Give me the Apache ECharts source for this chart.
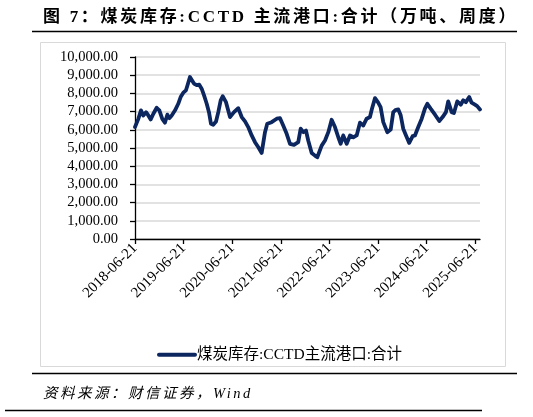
<!DOCTYPE html>
<html lang="zh">
  <head>
    <meta charset="UTF-8" />
    <title>煤炭库存:CCTD主流港口:合计</title>
    <script src="https://cdn.jsdelivr.net/npm/echarts@6.0.0/dist/echarts.min.js"></script>
    <style>
      html, body { margin: 0; padding: 0; background: #fff; }
      .page { position: relative; width: 533px; height: 417px; overflow: hidden; }
      .echarts { position: absolute; left: 0; top: 0; width: 533px; height: 417px; }
      .title {
        position: absolute; left: 43px; top: 2px;
        font: bold 17px "Liberation Serif", "Noto Sans CJK SC", serif;
        letter-spacing: 2.7px; color: #000; white-space: nowrap;
      }
      .source {
        position: absolute; left: 43px; top: 381px;
        font: italic 14.5px "Liberation Serif", "Noto Sans CJK SC", serif;
        letter-spacing: 2.5px; color: #000; white-space: nowrap;
      }
    </style>
  </head>
  <body>
    <div class="page">
      <div class="echarts"></div>
      <div class="title">图 7：煤炭库存:CCTD 主流港口:合计（万吨、周度）</div>
      <div class="source">资料来源：财信证券，Wind</div>
    </div>
    <script>
      // 数据 (从图上读取, 单位: 万吨)
      const seriesName = '煤炭库存:CCTD主流港口:合计'
      const tickDates = ['2018-06-21', '2019-06-21', '2020-06-21', '2021-06-21',
                         '2022-06-21', '2023-06-21', '2024-06-21', '2025-06-21']
      const dates = [
        '2018-06-21', '2018-07-16', '2018-08-05', '2018-08-22', '2018-09-12', '2018-09-29',
        '2018-10-17', '2018-11-06', '2018-12-01', '2018-12-21', '2019-01-12', '2019-02-01',
        '2019-02-19', '2019-03-06', '2019-03-24', '2019-04-18', '2019-05-12', '2019-05-30',
        '2019-06-19', '2019-07-09', '2019-07-19', '2019-08-08', '2019-08-23', '2019-09-07',
        '2019-09-28', '2019-10-17', '2019-11-04', '2019-11-22', '2019-12-12', '2019-12-29',
        '2020-01-13', '2020-01-30', '2020-02-20', '2020-03-08', '2020-03-26', '2020-04-10',
        '2020-05-05', '2020-06-04', '2020-07-04', '2020-08-05', '2020-08-31', '2020-09-25',
        '2020-10-19', '2020-11-14', '2020-12-09', '2021-01-03', '2021-01-28', '2021-02-22',
        '2021-03-11', '2021-04-13', '2021-05-21', '2021-06-15', '2021-07-09', '2021-08-04',
        '2021-08-29', '2021-09-28', '2021-10-30', '2021-11-17', '2021-12-07', '2021-12-27',
        '2022-01-13', '2022-02-08', '2022-03-05', '2022-03-22', '2022-04-24', '2022-05-19',
        '2022-06-13', '2022-07-08', '2022-08-02', '2022-08-27', '2022-09-14', '2022-10-03',
        '2022-10-29', '2022-11-23', '2022-12-18', '2023-01-12', '2023-02-06', '2023-03-03',
        '2023-03-28', '2023-04-22', '2023-05-07', '2023-05-30', '2023-06-23', '2023-07-11',
        '2023-07-31', '2023-08-30', '2023-09-25', '2023-10-14', '2023-11-03', '2023-11-21',
        '2023-12-09', '2023-12-28', '2024-01-18', '2024-02-11', '2024-03-08', '2024-03-25',
        '2024-04-19', '2024-05-15', '2024-06-08', '2024-06-26', '2024-07-21', '2024-08-23',
        '2024-09-24', '2024-10-19', '2024-11-13', '2024-11-30', '2024-12-26', '2025-01-12',
        '2025-02-06', '2025-03-04', '2025-03-23', '2025-04-12', '2025-05-07', '2025-05-25',
        '2025-06-19', '2025-07-06', '2025-07-27'
      ]
      const values = [
        6150, 6600, 7070, 6790, 6970, 6790,
        6570, 6880, 7210, 7070, 6600, 6390,
        6830, 6640, 6790, 7070, 7430, 7800,
        8040, 8170, 8410, 8900, 8720, 8540,
        8450, 8480, 8260, 7890, 7430, 6970,
        6330, 6280, 6460, 6970, 7620, 7840,
        7520, 6700, 6970, 7190, 6700, 6460,
        6150, 5690, 5320, 5040, 4730, 5870,
        6330, 6420, 6610, 6640, 6240, 5780,
        5230, 5170, 5320, 6060, 5870, 5960,
        5410, 4730, 4580, 4490, 5130, 5410,
        5870, 6550, 6150, 5590, 5230, 5690,
        5230, 5690, 5590, 5690, 6390, 6240,
        6610, 6700, 7160, 7740, 7490, 7250,
        6420, 5870, 6020, 6970, 7100, 7120,
        6800, 6060, 5690, 5280, 5650, 5690,
        6150, 6610, 7160, 7430, 7160, 6830,
        6480, 6700, 6970, 7560, 6970, 6920,
        7560, 7380, 7620, 7520, 7800, 7490,
        7380, 7300, 7120
      ]

      const myCharts = echarts.init(document.querySelector('.echarts'))

      const lineColor = '#0c2660'
      const labelFont = '"Liberation Serif", "Noto Sans CJK SC", serif'

      const option = {
        animation: false,
        grid: { left: 135, right: 53, top: 57, bottom: 178 },
        // 外框 + 分隔线
        graphic: [
          { type: 'rect', shape: { x: 40.5, y: 42.5, width: 465, height: 324 },
            style: { fill: 'none', stroke: '#d9d9d9', lineWidth: 1 } },
          { type: 'line', shape: { x1: 32, y1: 31.5, x2: 517, y2: 31.5 },
            style: { stroke: '#000', lineWidth: 1.5 } },
          { type: 'line', shape: { x1: 32, y1: 373.5, x2: 517, y2: 373.5 },
            style: { stroke: '#000', lineWidth: 1.5 } },
          { type: 'line', shape: { x1: 5, y1: 410.5, x2: 482, y2: 410.5 },
            style: { stroke: '#000', lineWidth: 1.5 } }
        ],
        legend: {
          left: 152, top: 342,
          itemWidth: 40, itemHeight: 10, itemGap: 0,
          textStyle: { fontFamily: labelFont, fontSize: 15.5, color: '#000', padding: [0, 0, 0, -5] },
          data: [{ name: seriesName, icon: 'path://M2,3 L38,3 A2,2 0 0 1 38,7 L2,7 A2,2 0 0 1 2,3 Z' }]
        },
        xAxis: {
          type: 'time',
          min: '2018-06-21',
          max: '2025-07-27',
          axisLine: { lineStyle: { color: '#000', width: 1.3 } },
          axisTick: { show: true, length: 5, lineStyle: { color: '#000', width: 1.3 }, customValues: tickDates },
          axisLabel: {
            customValues: tickDates,
            formatter: '{yyyy}-{MM}-{dd}',
            rotate: 45, margin: 7,
            fontFamily: labelFont, fontSize: 15, color: '#000'
          },
          splitLine: { show: false }
        },
        yAxis: {
          type: 'value',
          min: 0, max: 10000, interval: 1000,
          axisLine: { show: true, lineStyle: { color: '#000', width: 1.3 } },
          axisTick: { show: true, length: 5, lineStyle: { color: '#000', width: 1.3 } },
          axisLabel: {
            margin: 17,
            fontFamily: labelFont, fontSize: 14.5, color: '#000',
            formatter: (v) => v.toLocaleString('en-US', { minimumFractionDigits: 2, maximumFractionDigits: 2 })
          },
          splitLine: { lineStyle: { color: '#d9d9d9', width: 1.5 } }
        },
        series: [
          {
            name: seriesName,
            type: 'line',
            data: dates.map((d, i) => [d, values[i]]),
            symbol: 'none',
            itemStyle: { color: lineColor },
            lineStyle: { color: lineColor, width: 3.8, join: 'round', cap: 'round' }
          }
        ]
      }

      myCharts.setOption(option)
    </script>
  </body>
</html>
